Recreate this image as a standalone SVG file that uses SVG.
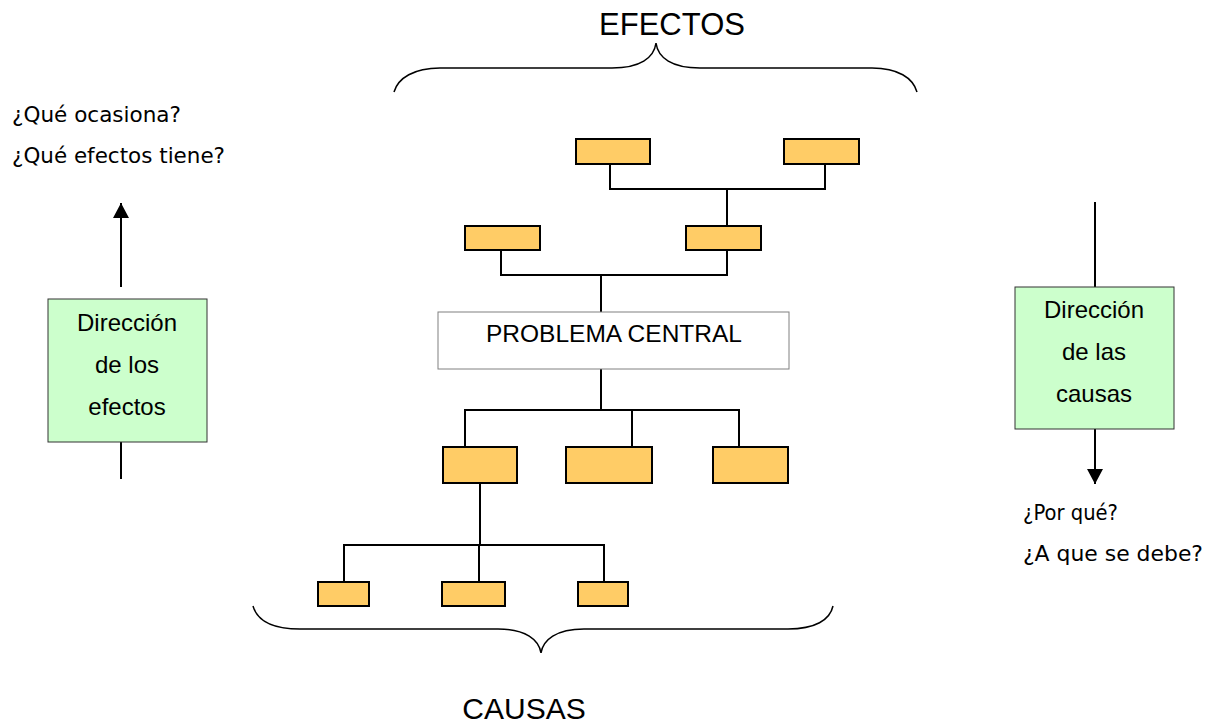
<svg xmlns="http://www.w3.org/2000/svg" width="1213" height="726" viewBox="0 0 1213 726">
  <style>
    .box { fill: #FFCC66; stroke: #000; stroke-width: 2; }
    .dir { fill: #CCFFCC; stroke: #333; stroke-width: 1; }
    .core { fill: #fff; stroke: #808080; stroke-width: 1; }
    .wire { fill: none; stroke: #000; stroke-width: 2; }
    .brace { fill: none; stroke: #000; stroke-width: 1.5; }
    .t { font-family: "Liberation Sans", Arial, sans-serif; fill: #000; }
    .q { font-family: "DejaVu Sans", Verdana, sans-serif; font-size: 21px; fill: #000; }
  </style>
  <defs>
    <marker id="head" markerWidth="16" markerHeight="16" refX="15" refY="8" orient="auto" markerUnits="userSpaceOnUse">
      <path d="M0,0 L15,8 L0,16 Z" fill="#000"/>
    </marker>
  </defs>
  <rect width="1213" height="726" fill="#fff"/>

  <!-- headings and braces -->
  <text class="t" x="672" y="35" font-size="31" text-anchor="middle">EFECTOS</text>
  <path class="brace" d="M394,92 C398,78 414,68 440,68 L612,68 C640,68 654,58 656,43 C658,58 672,68 700,68 L872,68 C898,68 913,78 917,92"/>
  <path class="brace" d="M253,606 C257,620 272,629 300,629 L498,629 C526,629 539,640 541,653 C543,640 556,629 584,629 L788,629 C815,629 830,620 833,606"/>
  <text class="t" x="524" y="719" font-size="30" text-anchor="middle">CAUSAS</text>

  <!-- connectors -->
  <g id="connectors">
    <path class="wire" d="M610,164 V189 H825 V164 M727,189 V226"/>
    <path class="wire" d="M501,250 V275 H727 V250 M601,275 V312"/>
    <path class="wire" d="M601,348 V410 M465,447 V410 H739 V447 M632,410 V447"/>
    <path class="wire" d="M480,483 V545 M344,582 V545 H604 V582 M479,545 V582"/>
    <path class="wire" d="M121,287 V203" marker-end="url(#head)"/>
    <path class="wire" d="M121,442 V479"/>
    <path class="wire" d="M1095,202 V287"/>
    <path class="wire" d="M1095,429 V484" marker-end="url(#head)"/>
  </g>

  <!-- effects -->
  <g id="effect-1"><rect class="box" x="576" y="139" width="74" height="25"/></g>
  <g id="effect-2"><rect class="box" x="784" y="139" width="75" height="25"/></g>
  <g id="effect-3"><rect class="box" x="465" y="226" width="75" height="24"/></g>
  <g id="effect-4"><rect class="box" x="686" y="226" width="75" height="24"/></g>

  <!-- central problem -->
  <g id="central">
    <rect class="core" x="438" y="312" width="351" height="57"/>
    <text class="t" x="614" y="342" font-size="24.5" text-anchor="middle">PROBLEMA CENTRAL</text>
  </g>

  <!-- causes -->
  <g id="cause-1"><rect class="box" x="443" y="447" width="74" height="36"/></g>
  <g id="cause-2"><rect class="box" x="566" y="447" width="86" height="36"/></g>
  <g id="cause-3"><rect class="box" x="713" y="447" width="75" height="36"/></g>
  <g id="cause-4"><rect class="box" x="318" y="582" width="51" height="24"/></g>
  <g id="cause-5"><rect class="box" x="442" y="582" width="63" height="24"/></g>
  <g id="cause-6"><rect class="box" x="578" y="582" width="50" height="24"/></g>

  <!-- direction of effects -->
  <g id="dir-effects">
    <rect class="dir" x="48" y="299" width="159" height="143"/>
    <text class="t" x="127" y="331" font-size="24" text-anchor="middle">Dirección</text>
    <text class="t" x="127" y="373" font-size="24" text-anchor="middle">de los</text>
    <text class="t" x="127" y="415" font-size="24" text-anchor="middle">efectos</text>
  </g>
  <g id="q-effects">
    <text class="q" x="12" y="122" textLength="169" lengthAdjust="spacingAndGlyphs">¿Qué ocasiona?</text>
    <text class="q" x="12" y="163" textLength="213" lengthAdjust="spacingAndGlyphs">¿Qué efectos tiene?</text>
  </g>

  <!-- direction of causes -->
  <g id="dir-causes">
    <rect class="dir" x="1015" y="287" width="159" height="142"/>
    <text class="t" x="1094" y="318" font-size="24" text-anchor="middle">Dirección</text>
    <text class="t" x="1094" y="360" font-size="24" text-anchor="middle">de las</text>
    <text class="t" x="1094" y="402" font-size="24" text-anchor="middle">causas</text>
  </g>
  <g id="q-causes">
    <text class="q" x="1023" y="520" textLength="95" lengthAdjust="spacingAndGlyphs">¿Por qué?</text>
    <text class="q" x="1023" y="561" textLength="180" lengthAdjust="spacingAndGlyphs">¿A que se debe?</text>
  </g>
</svg>
